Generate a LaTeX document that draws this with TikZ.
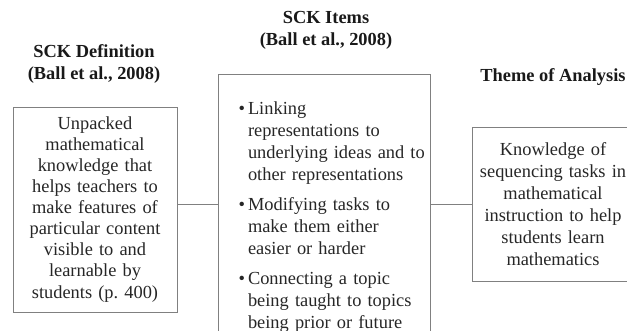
\documentclass[tikz,border=0pt]{standalone}
\usepackage{fontspec}
\setmainfont{Liberation Serif}

\tikzset{
  sckbox/.style={draw=black!50, line width=0.8pt, text=black!85, inner xsep=4pt,
    font=\fontsize{18.4pt}{22pt}\selectfont},
  scktitle/.style={align=center, text=black!90, font=\bfseries\fontsize{18.4pt}{22pt}\selectfont},
  link/.style={draw=black!50, line width=0.8pt}
}

% bullet list used in the middle box
\newenvironment{scklist}{%
  \begin{list}{\textbullet}{%
    \setlength{\leftmargin}{26pt}\setlength{\labelwidth}{10pt}%
    \setlength{\labelsep}{3pt}\setlength{\itemsep}{8pt}%
    \setlength{\parsep}{0pt}\setlength{\topsep}{0pt}%
    \setlength{\partopsep}{0pt}}}%
  {\end{list}}

\begin{document}
\begin{tikzpicture}[x=1pt,y=1pt]
  \useasboundingbox (0,0) rectangle (627,331);

  % titles
  \node[scktitle] (deftitle)   at (94,267)  {SCK Definition\\(Ball et al., 2008)};
  \node[scktitle] (itemtitle)  at (326,301) {SCK Items\\(Ball et al., 2008)};
  \node[scktitle] (themetitle) at (553,254) {Theme of Analysis};

  % boxes
  \node[sckbox, align=center, text width=156pt, minimum height=205pt] (def) at (95,121.5)
    {\baselineskip=21pt Unpacked\\ mathematical\\ knowledge that\\ helps teachers to\\
     make features of\\ particular content\\ visible to and\\ learnable by\\ students (p.\ 400)};

  \node[sckbox, anchor=north, text width=204pt, inner ysep=18pt] (items) at (324,257)
    {\begin{scklist}
       \item Linking\\ representations to\\ underlying ideas and to\\ other representations
       \item Modifying tasks to\\ make them either\\ easier or harder
       \item Connecting a topic\\ being taught to topics\\ being prior or future
     \end{scklist}};

  \node[sckbox, align=center, text width=154pt, minimum height=154pt] (theme) at (553,127)
    {Knowledge of\\ sequencing tasks in\\ mathematical\\ instruction to help\\
     students learn\\ mathematics};

  % connectors
  \draw[link] (def.east |- theme.west) -- (items.west |- theme.west);
  \draw[link] (items.east |- theme.west) -- (theme.west);
\end{tikzpicture}
\end{document}
